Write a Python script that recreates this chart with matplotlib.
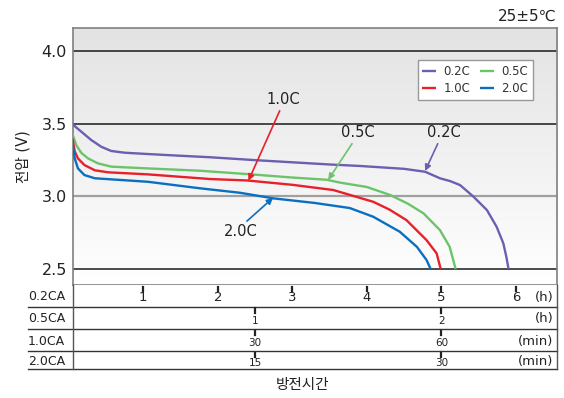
import matplotlib
matplotlib.use("Agg")
import matplotlib.pyplot as plt
import numpy as np

plt.rcParams['font.family'] = ['DejaVu Sans', 'Noto Sans CJK KR']

# discharge curves, x in hours of the 0.2C scale
hours_02 = [0.05, 0.1, 0.168, 0.30, 0.436, 0.57, 0.75, 1.06, 1.5, 1.89, 2.5, 3.0, 3.5, 3.9, 4.2, 4.5, 4.78,
            4.98, 5.12, 5.25, 5.43, 5.61, 5.74, 5.83, 5.87, 5.90]
volt_02 = [3.50, 3.475, 3.446, 3.389, 3.342, 3.313, 3.301, 3.292, 3.28, 3.27, 3.25, 3.235, 3.22, 3.21, 3.20, 3.19, 3.17,
           3.125, 3.105, 3.078, 2.998, 2.906, 2.791, 2.677, 2.585, 2.50]

hours_05 = [0.05, 0.10, 0.168, 0.258, 0.39, 0.57, 1.06, 1.76, 2.5, 3.0, 3.46, 3.64, 4.0, 4.31, 4.55, 4.76, 4.98, 5.11, 5.19]
volt_05 = [3.43, 3.354, 3.30, 3.262, 3.228, 3.205, 3.193, 3.177, 3.15, 3.13, 3.115, 3.095, 3.065, 3.01, 2.95, 2.883, 2.768, 2.653, 2.50]

hours_10 = [0.05, 0.08, 0.123, 0.21, 0.35, 0.53, 1.06, 1.89, 2.39, 3.0, 3.55, 4.085, 4.3, 4.53, 4.80, 4.935, 4.99]
volt_10 = [3.40, 3.31, 3.262, 3.216, 3.18, 3.166, 3.152, 3.12, 3.11, 3.08, 3.044, 2.963, 2.91, 2.837, 2.699, 2.608, 2.50]

hours_20 = [0.05, 0.08, 0.123, 0.21, 0.35, 1.06, 1.76, 2.3, 2.74, 3.3, 3.77, 4.085, 4.44, 4.67, 4.80, 4.855]
volt_20 = [3.37, 3.262, 3.193, 3.147, 3.125, 3.101, 3.056, 3.025, 2.987, 2.955, 2.92, 2.86, 2.757, 2.653, 2.562, 2.50]

rates = ["0.2C", "0.5C", "1.0C", "2.0C"]
colors = ["#6a5fb0", "#6cc46a", "#e8202a", "#0a6fc0"]

# table rows under the chart
row_names = ["0.2CA", "0.5CA", "1.0CA", "2.0CA"]
row_units = ["(h)", "(h)", "(min)", "(min)"]
row_ticks = [[1, 2, 3, 4, 5, 6], [2.5, 5], [2.5, 5], [2.5, 5]]
row_labels = [["1", "2", "3", "4", "5", "6"], ["1", "2"], ["30", "60"], ["15", "30"]]

fig = plt.figure(figsize=(5.64, 3.98), dpi=100)
W, H = 564, 398
xlim = (0.05, 6.55)

ax = fig.add_axes([72.5 / W, 1 - 285 / H, (557 - 72.5) / W, (285 - 28) / H])
ax.set_xlim(*xlim)
ax.set_ylim(2.39, 4.16)

# grey-to-white background
grad = np.linspace(0, 1, 256).reshape(-1, 1)
ax.imshow(grad, extent=[xlim[0], xlim[1], 2.39, 4.16], aspect='auto',
          cmap=matplotlib.colors.LinearSegmentedColormap.from_list("g", ["#ffffff", "#e3e3e3"]),
          origin='lower', zorder=0)

for v in [2.5, 3.5, 4.0]:
    ax.axhline(v, color='#1a1a1a', lw=1.1, zorder=1)
ax.axhline(3.0, color='#a0a0a0', lw=1.6, zorder=1)

series = [(hours_02, volt_02), (hours_05, volt_05), (hours_10, volt_10), (hours_20, volt_20)]
handles = {}
for (h, v), name, c in zip(series, rates, colors):
    handles[name], = ax.plot(h, v, color=c, lw=1.7, zorder=3, solid_capstyle='butt', solid_joinstyle='round')

ax.set_yticks([2.5, 3.0, 3.5, 4.0])
ax.set_yticklabels(["2.5", "3.0", "3.5", "4.0"], fontsize=11.5, color='#222222')
ax.tick_params(axis='y', length=0, pad=4)
ax.set_xticks([])
for s in ax.spines.values():
    s.set_color('#808080')
    s.set_linewidth(1.2)
ax.set_ylabel("전압 (V)", fontsize=10.5, color='#222222', labelpad=8)

order = ["0.2C", "1.0C", "0.5C", "2.0C"]
leg = ax.legend([handles[k] for k in order], order, ncol=2, loc='upper right',
                bbox_to_anchor=(0.962, 0.897), fontsize=8.5, handlelength=1.2,
                columnspacing=0.8, handletextpad=0.6, borderpad=0.4, labelspacing=0.35,
                fancybox=False, framealpha=1, edgecolor='#999999')
leg.get_frame().set_linewidth(1.0)
for t in leg.get_texts():
    t.set_color('#333333')

ann = [("1.0C", (2.88, 3.666), (2.83, 3.59), (2.41, 3.108), colors[2]),
       ("0.5C", (3.88, 3.437), (3.80, 3.363), (3.48, 3.114), colors[1]),
       ("0.2C", (5.03, 3.44), (4.95, 3.363), (4.78, 3.175), colors[0]),
       ("2.0C", (2.31, 2.758), (2.39, 2.83), (2.74, 2.99), colors[3])]
for name, tpos, tail, head, c in ann:
    ax.text(tpos[0], tpos[1], name, fontsize=10.5, color='#222222', ha='center', va='center', zorder=5)
    ax.annotate("", xy=head, xytext=tail,
                arrowprops=dict(arrowstyle='-|>', color=c, lw=1.2, mutation_scale=9, shrinkA=0, shrinkB=0),
                zorder=5)

fig.text(557 / W, 1 - 16 / H, "25±5℃", fontsize=11, ha='right', va='center', color='#222222')

# table axes, y in pixel rows from top of figure
tb = fig.add_axes([72.5 / W, 1 - 369 / H, (557 - 72.5) / W, (369 - 285) / H])
tb.set_xlim(*xlim)
tb.set_ylim(369, 285)
tb.set_xticks([])
tb.set_yticks([])
for k in ['top', 'bottom']:
    tb.spines[k].set_visible(False)
for k in ['left', 'right']:
    tb.spines[k].set_color('#555555')
    tb.spines[k].set_linewidth(1.0)

row_top = [285, 306.7, 329, 351]
row_bot = [306.7, 329, 351, 369]
x_left = (28 - 68.8) / 74.54
for y in row_bot:
    tb.plot([x_left, xlim[1]], [y, y], color='#333333', lw=1.0, clip_on=False)

for i in range(4):
    top, bot = row_top[i], row_bot[i]
    mid = (top + bot) / 2
    tb.text(x_left, mid + 1, row_names[i], fontsize=9, ha='left', va='center', color='#222222')
    fs = 9.5 if i == 0 else 7.5
    for xt, lab in zip(row_ticks[i], row_labels[i]):
        tb.plot([xt, xt], [top + 1.5, top + 6], color='#222222', lw=1.6)
        tb.text(xt, mid + 3 if i else mid + 2, lab, fontsize=fs, ha='center', va='center', color='#222222')
    tb.text(6.5, mid + (2 if i == 0 else 1), row_units[i], fontsize=9.5, ha='right', va='center', color='#222222')

fig.text(302 / W, 1 - 385 / H, "방전시간", fontsize=10.5, ha='center', va='center', color='#222222')

fig.savefig("out.png", dpi=100)
